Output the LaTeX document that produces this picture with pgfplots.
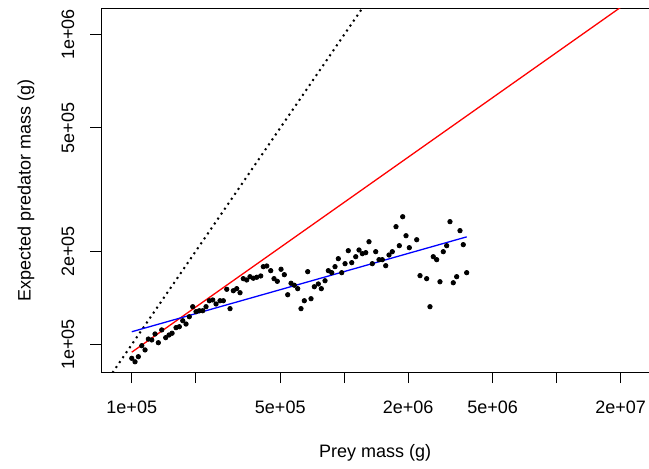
\documentclass[border=0pt]{standalone}
\usepackage{pgfplots}
\pgfplotsset{compat=1.18}
\usepackage{fontspec}
\setmainfont{Liberation Sans}
\begin{document}
\fontsize{9}{11}\selectfont
\begin{tikzpicture}
\path[use as bounding box] (-50.65pt,-47.85pt) rectangle (273.85pt,186.15pt);
\begin{axis}[
  at={(0,0)}, anchor=south west,
  scale only axis, width=273.85pt, height=181.65pt,
  xmode=log, ymode=log,
  xmin=7.19e4, xmax=2.72e7, ymin=8.14e4, ymax=1.2096e6,
  axis line style={line width=0.5pt},
  tick pos=left, tick align=outside, major tick length=5.5pt,
  every tick/.style={black, line width=0.5pt},
  xminorticks=false, yminorticks=false,
  xtick={1e5,2e5,5e5,1e6,2e6,5e6,1e7,2e7},
  xticklabels={1e+05,,5e+05,,2e+06,5e+06,,2e+07},
  ytick={1e5,2e5,5e5,1e6},
  yticklabels={1e+05,2e+05,5e+05,1e+06},
  /pgf/number format/assume math mode=true,
  xticklabel style={anchor=center, yshift=-12.2pt},
  yticklabel style={xshift=-11.2pt, rotate=90, anchor=center},
  xlabel={Prey mass (g)},
  ylabel={Expected predator mass (g)},
  xlabel style={at={(axis description cs:0.5,-0.2221)}, anchor=center},
  ylabel style={at={(axis description cs:-0.1375,0.5)}, anchor=center},
  clip=true,
]
\addplot[black, line width=1pt, dash pattern=on 1pt off 2pt] coordinates {(7e4,7e4) (1.5e6,1.5e6)};
\addplot[red, line width=0.65pt] coordinates {(1e5,9.45e4) (2.72e7,1.421e6)};
\addplot[only marks, mark=*, mark size=1.1pt, black] coordinates {
(1.000e5,9.03e4) (1.036e5,8.80e4) (1.074e5,9.14e4) (1.115e5,9.92e4) (1.155e5,9.61e4)
(1.197e5,1.042e5) (1.242e5,1.035e5) (1.287e5,1.082e5) (1.334e5,1.014e5) (1.384e5,1.115e5)
(1.445e5,1.053e5) (1.498e5,1.074e5) (1.548e5,1.088e5) (1.616e5,1.134e5) (1.675e5,1.142e5)
(1.738e5,1.194e5) (1.801e5,1.165e5) (1.866e5,1.230e5) (1.936e5,1.325e5) (2.007e5,1.277e5)
(2.080e5,1.286e5) (2.158e5,1.286e5) (2.237e5,1.325e5) (2.318e5,1.385e5) (2.405e5,1.393e5)
(2.493e5,1.352e5) (2.603e5,1.385e5) (2.698e5,1.385e5) (2.800e5,1.508e5) (2.901e5,1.306e5)
(3.007e5,1.492e5) (3.120e5,1.515e5) (3.233e5,1.470e5) (3.350e5,1.632e5) (3.476e5,1.616e5)
(3.602e5,1.656e5) (3.734e5,1.637e5) (3.874e5,1.649e5) (4.046e5,1.665e5) (4.161e5,1.784e5)
(4.318e5,1.793e5) (4.509e5,1.732e5) (4.673e5,1.632e5) (4.843e5,1.600e5) (5.042e5,1.750e5)
(5.225e5,1.681e5) (5.421e5,1.448e5) (5.619e5,1.577e5) (5.823e5,1.554e5) (6.041e5,1.515e5)
(6.261e5,1.306e5) (6.489e5,1.385e5) (6.733e5,1.719e5) (6.979e5,1.406e5) (7.233e5,1.537e5)
(7.553e5,1.569e5) (7.803e5,1.515e5) (8.122e5,1.607e5) (8.418e5,1.732e5) (8.733e5,1.706e5)
(9.051e5,1.784e5) (9.381e5,1.893e5) (9.733e5,1.706e5) (1.009e6,1.824e5) (1.045e6,2.009e5)
(1.085e6,1.838e5) (1.133e6,1.921e5) (1.174e6,2.019e5) (1.217e6,1.965e5) (1.263e6,1.980e5)
(1.308e6,2.147e5) (1.356e6,1.824e5) (1.407e6,1.994e5) (1.458e6,1.879e5) (1.511e6,1.879e5)
(1.568e6,1.797e5) (1.625e6,1.946e5) (1.684e6,1.994e5) (1.753e6,2.401e5) (1.817e6,2.085e5)
(1.885e6,2.585e5) (1.954e6,2.245e5) (2.025e6,2.054e5) (2.194e6,2.179e5) (2.274e6,1.669e5)
(2.444e6,1.632e5) (2.533e6,1.325e5) (2.625e6,1.921e5) (2.724e6,1.879e5) (2.823e6,1.595e5)
(2.926e6,1.994e5) (3.036e6,2.085e5) (3.146e6,2.492e5) (3.261e6,1.583e5) (3.383e6,1.656e5)
(3.507e6,2.331e5) (3.634e6,2.101e5) (3.771e6,1.706e5)
};
\addplot[blue, line width=0.65pt] coordinates {(1e5,1.10e5) (3.771e6,2.226e5)};
\end{axis}
\end{tikzpicture}
\end{document}
